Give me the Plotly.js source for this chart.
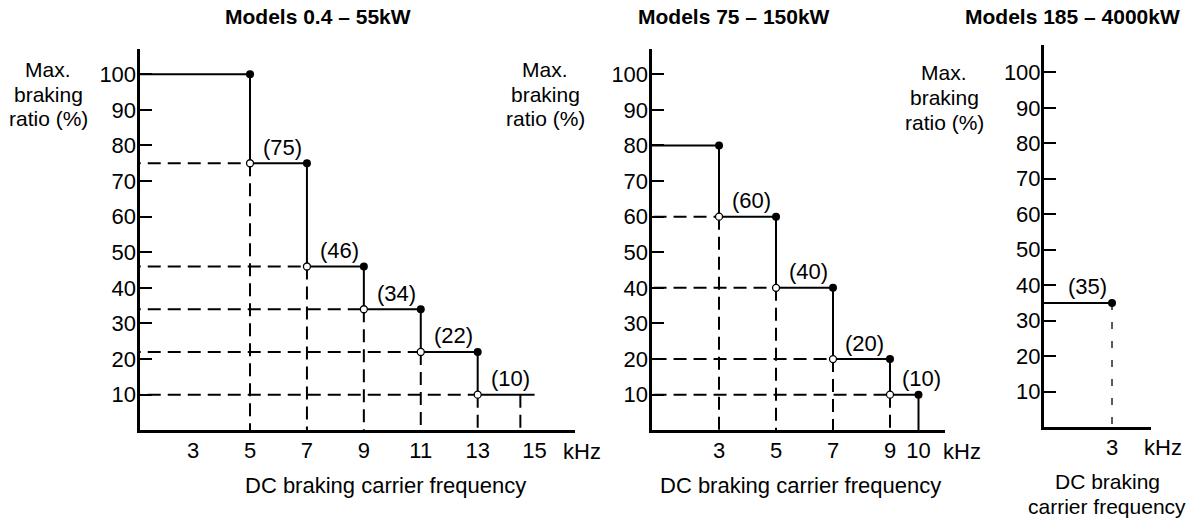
<!DOCTYPE html>
<html><head><meta charset="utf-8">
<script src="https://cdn.plot.ly/plotly-3.0.1.min.js"></script>
<style>html,body{margin:0;padding:0;background:#fff}</style>
</head><body><div id="chart" style="width:1197px;height:520px"></div>
<script>
// ---------- data ----------
const titles = ["Models 0.4 – 55kW", "Models 75 – 150kW", "Models 185 – 4000kW"];
const yTitleLines = ["Max.", "braking", "ratio (%)"];
const xUnit = "kHz";
const xTitle = "DC braking carrier frequency";
const xTitleLines3 = ["DC braking", "carrier frequency"];
const yTickVals = [10, 20, 30, 40, 50, 60, 70, 80, 90, 100];

const p1Freq = [5, 7, 9, 11, 13, 15];
const p1Level = [100, 75, 46, 34, 22, 10];
const p1Ticks = [3, 5, 7, 9, 11, 13, 15];
const p1Guide = [14.5];

const p2Freq = [3, 5, 7, 9, 10];
const p2Level = [80, 60, 40, 20, 10];
const p2Ticks = [3, 5, 7, 9, 10];

const p3Freq = [3];
const p3Level = [35];
const p3Ticks = [3];

// ---------- layout helpers ----------
const W = 1197, H = 520;
const FONT = "Liberation Sans, Arial, Helvetica, sans-serif";
const FS = 22;
const px = v => v / W, py = v => 1 - v / H;

function buildPanel(freq, level, opt, xa, ya) {
  const traces = [], anns = [];
  const n = freq.length;
  const sx = [0], sy = [level[0]];
  for (let i = 0; i < n; i++) {
    sx.push(freq[i]); sy.push(level[i]);
    if (i + 1 < level.length) { sx.push(freq[i]); sy.push(level[i + 1]); }
  }
  if (opt.dropSolid) { sx.push(freq[n - 1]); sy.push(0); }
  const dx = [], dy = [];
  const ox = [], oy = [];
  for (let i = 0; i < n; i++) {
    if (i + 1 < level.length) {
      const L = level[i + 1];
      ox.push(freq[i]); oy.push(L);
      dx.push(0, freq[i], null, freq[i], freq[i], null);
      dy.push(L, L, null, L, 0, null);
      const nx = freq[i + 1] !== undefined ? (freq[i] + freq[i + 1]) / 2 : freq[i];
      anns.push({xref: xa, yref: ya, x: nx, y: L, text: "(" + L + ")", showarrow: false, borderpad: 0,
        yshift: 16, xshift: (opt.labelShift || [])[i] || 4, font: {family: FONT, size: FS, color: "#000"}});
    }
  }
  (opt.guides || []).forEach(g => { dx.push(g, g, null); dy.push(level[level.length - 1], 0, null); });
  if (opt.dropDash) {
    traces.push({x: [freq[n - 1], freq[n - 1]], y: [level[n - 1], 0], xaxis: xa, yaxis: ya, mode: "lines",
      line: {color: "#000", width: 1.3, dash: "7px,12px"}, hoverinfo: "skip"});
    anns.push({xref: xa, yref: ya, x: freq[n - 1], y: level[n - 1], text: "(" + level[n - 1] + ")", showarrow: false,
      borderpad: 0, yshift: 16, xanchor: "right", xshift: -4, font: {family: FONT, size: FS, color: "#000"}});
  }
  traces.push({x: dx, y: dy, xaxis: xa, yaxis: ya, mode: "lines", line: {color: "#000", width: 2, dash: "13px,7px"}, hoverinfo: "skip"});
  traces.push({x: sx, y: sy, xaxis: xa, yaxis: ya, mode: "lines", line: {color: "#000", width: 2}, hoverinfo: "skip"});
  const fx = [], fy = [];
  const nf = opt.lastDot ? n : n - 1;
  for (let i = 0; i < nf; i++) { fx.push(freq[i]); fy.push(level[i]); }
  traces.push({x: fx, y: fy, xaxis: xa, yaxis: ya, mode: "markers", cliponaxis: false,
    marker: {size: 8, color: "#000"}, hoverinfo: "skip"});
  traces.push({x: ox, y: oy, xaxis: xa, yaxis: ya, mode: "markers", cliponaxis: false,
    marker: {size: 7, color: "#fff", line: {color: "#000", width: 1.3}}, hoverinfo: "skip"});
  return {traces, anns};
}

const P1 = buildPanel(p1Freq, p1Level, {guides: p1Guide, lastDot: false}, "x", "y");
const P2 = buildPanel(p2Freq, p2Level, {dropSolid: true, lastDot: true, labelShift: [4, 4, 3, 17]}, "x2", "y2");
const P3 = buildPanel(p3Freq, p3Level, {dropDash: true, lastDot: true}, "x3", "y3");

function xax(dom, range, ticks) {
  return {domain: dom, range: range, tickvals: ticks, ticktext: ticks.map(String), ticks: "",
    showgrid: false, zeroline: false, showline: true, linecolor: "#000", linewidth: 3,
    tickfont: {family: FONT, size: FS, color: "#000"}, fixedrange: true, ticklabelstandoff: -2};
}
function yax(dom, range, anchor) {
  return {domain: dom, range: range, anchor: anchor, tickvals: yTickVals, ticks: "inside", ticklen: 12, tickwidth: 2,
    tickcolor: "#000", showgrid: false, zeroline: false, showline: true, linecolor: "#000", linewidth: 3,
    tickfont: {family: FONT, size: FS, color: "#000"}, fixedrange: true, ticklabelstandoff: -4};
}

const anns = [].concat(P1.anns, P2.anns, P3.anns);
function txt(t, x, y, size, bold) {
  anns.push({xref: "paper", yref: "paper", x: px(x), y: py(y), xanchor: "center", yanchor: "middle", borderpad: 0,
    text: bold ? "<b>" + t + "</b>" : t, showarrow: false, font: {family: FONT, size: size, color: "#000"}});
}
txt(titles[0], 318, 17, 21, true);
txt(titles[1], 734, 17, 21, true);
txt(titles[2], 1072, 17, 21, true);
[[48, [70, 94.5, 119]], [545, [70, 94.5, 119]], [944, [73, 97.5, 122]]].forEach(([cx, ys]) => {
  yTitleLines.forEach((l, i) => txt(l, cx, ys[i], 21));
});
txt(xTitle, 385, 485, FS);
txt(xTitle, 800, 485, FS);
txt(xTitleLines3[0], 1107, 481, 21);
txt(xTitleLines3[1], 1107, 506, 21);
txt(xUnit, 582, 451, FS);
txt(xUnit, 962, 451, FS);
txt(xUnit, 1163, 447, FS);

const layout = {
  width: W, height: H, margin: {l: 0, r: 0, t: 0, b: 0}, showlegend: false,
  paper_bgcolor: "#fff", plot_bgcolor: "rgba(0,0,0,0)",
  xaxis: Object.assign(xax([139.5 / W, 575 / W], [1.116, 16.42], p1Ticks), {anchor: "y"}),
  yaxis: yax([(H - 430.3) / H, (H - 49.3) / H], [0, 107], "x"),
  xaxis2: Object.assign(xax([651.5 / W, 945 / W], [0.63, 10.93], p2Ticks), {anchor: "y2"}),
  yaxis2: yax([(H - 430.3) / H, (H - 49.3) / H], [0, 107], "x2"),
  xaxis3: Object.assign(xax([1044 / W, 1151 / W], [0.614, 4.368], p3Ticks), {anchor: "y3"}),
  yaxis3: yax([(H - 427.2) / H, (H - 45) / H], [0, 107.7], "x3"),
  annotations: anns
};

Plotly.newPlot("chart", [].concat(P1.traces, P2.traces, P3.traces), layout, {staticPlot: true, displayModeBar: false});
</script></body></html>
